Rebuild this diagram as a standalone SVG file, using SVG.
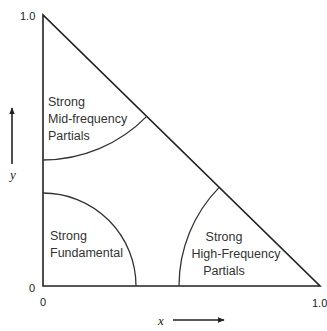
<svg xmlns="http://www.w3.org/2000/svg" width="327" height="331" viewBox="0 0 327 331">
<style>
.ln{fill:none;stroke:#222;stroke-width:1.6}
.arc{fill:none;stroke:#333;stroke-width:1.3}
.lbl{font-family:"Liberation Sans",Arial,sans-serif;font-size:12.5px;fill:#333}
.num{font-family:"Liberation Sans",Arial,sans-serif;font-size:11px;fill:#222}
.var{font-family:"Liberation Serif","Times New Roman",serif;font-style:italic;font-size:13px;fill:#222}
</style>
<defs>
<marker id="ah" viewBox="0 0 10 10" refX="9" refY="5" markerWidth="7" markerHeight="7" orient="auto" markerUnits="userSpaceOnUse">
<path d="M0,1 L10,5 L0,9 z" fill="#222"/>
</marker>
</defs>
<rect width="327" height="331" fill="#fff"/>
<g id="axes">
<path class="ln" d="M43,15 L43,286 L320,286 Z"/>
</g>
<g id="connectors">
<path class="arc" d="M43,160 A145,145 0 0 0 146.7,116.4"/>
<path class="arc" d="M43,193 A93,93 0 0 1 136,286"/>
<path class="arc" d="M179,286 A141,141 0 0 1 219.2,187.4"/>
<line class="ln" x1="12" y1="164" x2="12" y2="108" marker-end="url(#ah)"/>
<line class="ln" x1="173" y1="320" x2="224" y2="320" marker-end="url(#ah)"/>
</g>
<g id="mid">
<text class="lbl" x="48" y="106">Strong</text>
<text class="lbl" x="48" y="123">Mid-frequency</text>
<text class="lbl" x="48" y="140">Partials</text>
</g>
<g id="fundamental">
<text class="lbl" x="50" y="240">Strong</text>
<text class="lbl" x="50" y="257">Fundamental</text>
</g>
<g id="high">
<text class="lbl" x="224" y="241" text-anchor="middle">Strong</text>
<text class="lbl" x="236" y="258" text-anchor="middle">High-Frequency</text>
<text class="lbl" x="224" y="275" text-anchor="middle">Partials</text>
</g>
<g id="labels">
<text class="num" x="20" y="20">1.0</text>
<text class="num" x="29" y="292">0</text>
<text class="num" x="40" y="306">0</text>
<text class="num" x="312" y="307">1.0</text>
<text class="var" x="13" y="179" text-anchor="middle">y</text>
<text class="var" x="161" y="325" text-anchor="middle">x</text>
</g>
</svg>
